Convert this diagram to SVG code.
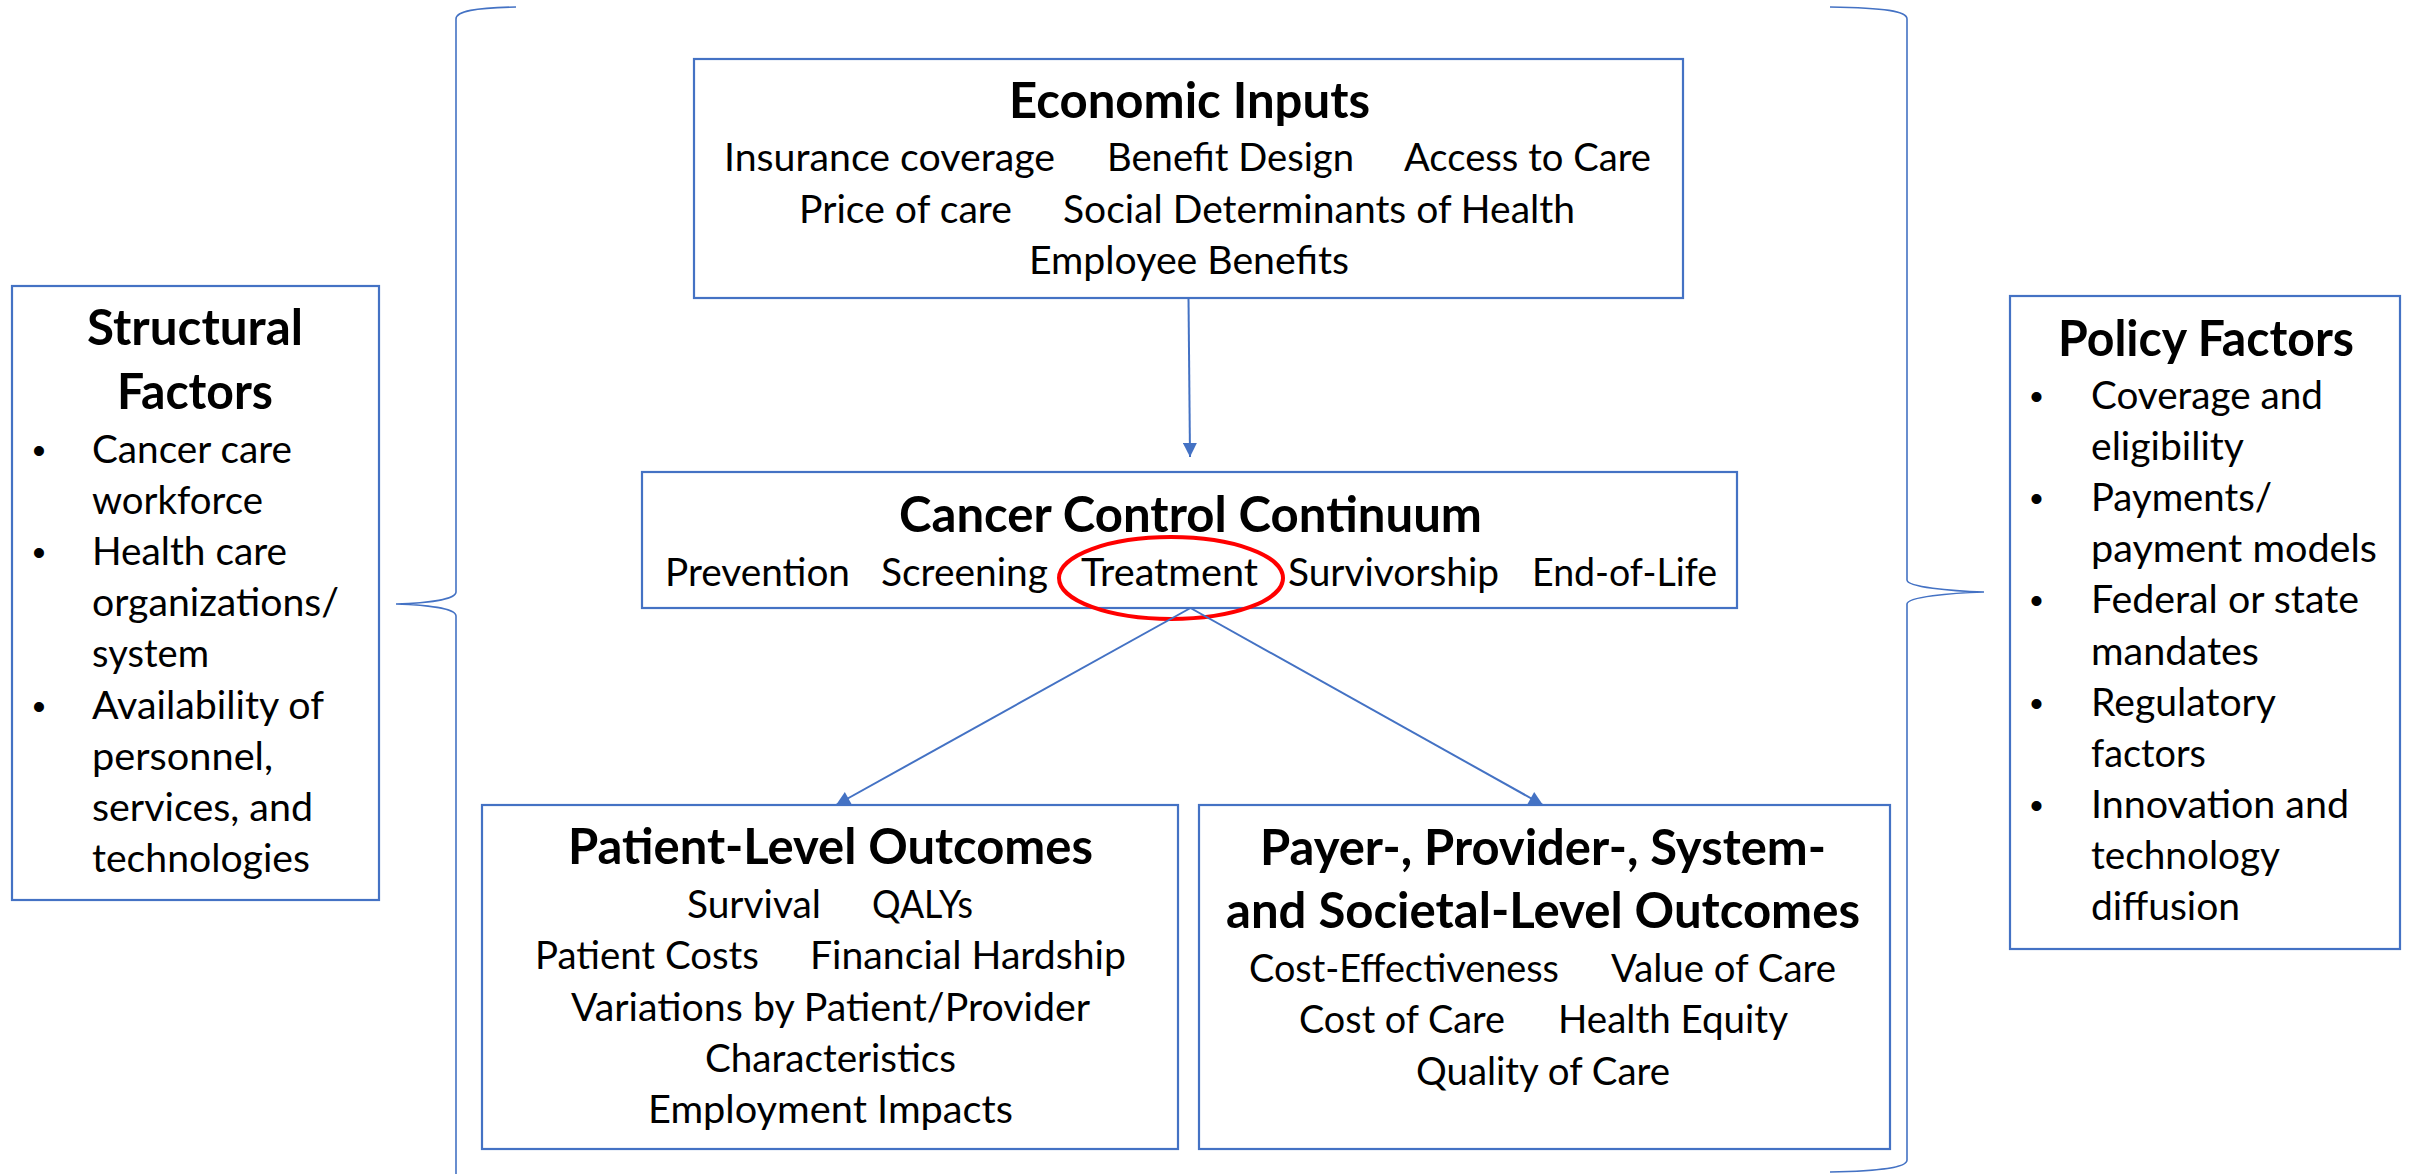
<svg xmlns="http://www.w3.org/2000/svg" width="2412" height="1174" viewBox="0 0 2412 1174">
<style>
.box{fill:#fff;stroke:#4472C4;stroke-width:2.2}
.brace{fill:none;stroke:#4472C4;stroke-width:1.6}
.conn{fill:none;stroke:#4472C4;stroke-width:2}
.t{font-family:Lato,"Liberation Sans",sans-serif;fill:#000}
.h{font-size:49px;font-weight:bold}
.b{font-size:39px}
.s{font-size:38px}
.bul{font-family:"Liberation Sans",Arial,sans-serif;font-size:37px;fill:#000;text-anchor:middle}
</style>
<defs>
<marker id="arr" viewBox="0 0 10 10" refX="10" refY="5" markerWidth="15" markerHeight="14" markerUnits="userSpaceOnUse" orient="auto">
<path d="M0,0 L10,5 L0,10 z" fill="#4472C4"/>
</marker>
</defs>
<rect width="2412" height="1174" fill="#fff"/>

<g id="braces">
<path class="brace" d="M516,7 C475,8 456,11 456,19 L456,592 C456,599 430,603 396,604 C430,605 456,609 456,616 L456,1180"/>
<path class="brace" d="M1830,7 C1885,8 1907,11 1907,19 L1907,580 C1907,587 1950,591 1984,592 C1950,593 1907,597 1907,604 L1907,1160 C1907,1167 1885,1171 1830,1172"/>
</g>

<g id="structural-factors">
<rect class="box" x="12" y="286" width="367" height="614"/>
<text class="t h" x="87" y="345" textLength="216" lengthAdjust="spacingAndGlyphs">Structural</text>
<text class="t h" x="117" y="409" textLength="156" lengthAdjust="spacingAndGlyphs">Factors</text>
<text class="bul" x="39" y="463">•</text>
<text class="bul" x="39" y="565">•</text>
<text class="bul" x="39" y="719">•</text>
<text class="t s" x="92" y="463" textLength="200" lengthAdjust="spacingAndGlyphs">Cancer care</text>
<text class="t s" x="92" y="514" textLength="171" lengthAdjust="spacingAndGlyphs">workforce</text>
<text class="t s" x="92" y="565" textLength="195" lengthAdjust="spacingAndGlyphs">Health care</text>
<text class="t s" x="92" y="616" textLength="247" lengthAdjust="spacingAndGlyphs">organizations/</text>
<text class="t s" x="92" y="667" textLength="117" lengthAdjust="spacingAndGlyphs">system</text>
<text class="t s" x="92" y="719" textLength="232" lengthAdjust="spacingAndGlyphs">Availability of</text>
<text class="t s" x="92" y="770" textLength="181" lengthAdjust="spacingAndGlyphs">personnel,</text>
<text class="t s" x="92" y="821" textLength="221" lengthAdjust="spacingAndGlyphs">services, and</text>
<text class="t s" x="92" y="872" textLength="218" lengthAdjust="spacingAndGlyphs">technologies</text>
</g>

<g id="policy-factors">
<rect class="box" x="2010" y="296" width="390" height="653"/>
<text class="t h" x="2058" y="356" textLength="296" lengthAdjust="spacingAndGlyphs">Policy Factors</text>
<text class="bul" x="2036.5" y="409">•</text>
<text class="bul" x="2036.5" y="511">•</text>
<text class="bul" x="2036.5" y="613">•</text>
<text class="bul" x="2036.5" y="716">•</text>
<text class="bul" x="2036.5" y="818">•</text>
<text class="t s" x="2091" y="409" textLength="232" lengthAdjust="spacingAndGlyphs">Coverage and</text>
<text class="t s" x="2091" y="460" textLength="153" lengthAdjust="spacingAndGlyphs">eligibility</text>
<text class="t s" x="2091" y="511" textLength="181" lengthAdjust="spacingAndGlyphs">Payments/</text>
<text class="t s" x="2091" y="562" textLength="286" lengthAdjust="spacingAndGlyphs">payment models</text>
<text class="t s" x="2091" y="613" textLength="268" lengthAdjust="spacingAndGlyphs">Federal or state</text>
<text class="t s" x="2091" y="665" textLength="168" lengthAdjust="spacingAndGlyphs">mandates</text>
<text class="t s" x="2091" y="716" textLength="185" lengthAdjust="spacingAndGlyphs">Regulatory</text>
<text class="t s" x="2091" y="767" textLength="115" lengthAdjust="spacingAndGlyphs">factors</text>
<text class="t s" x="2091" y="818" textLength="258" lengthAdjust="spacingAndGlyphs">Innovation and</text>
<text class="t s" x="2091" y="869" textLength="189" lengthAdjust="spacingAndGlyphs">technology</text>
<text class="t s" x="2091" y="920" textLength="149" lengthAdjust="spacingAndGlyphs">diffusion</text>
</g>

<g id="economic-inputs">
<rect class="box" x="694" y="59" width="989" height="239"/>
<text class="t h" x="1009" y="118" textLength="361" lengthAdjust="spacingAndGlyphs">Economic Inputs</text>
<text class="t b" x="724" y="171" textLength="331" lengthAdjust="spacingAndGlyphs">Insurance coverage</text>
<text class="t b" x="1107" y="171" textLength="247" lengthAdjust="spacingAndGlyphs">Benefit Design</text>
<text class="t b" x="1404" y="171" textLength="247" lengthAdjust="spacingAndGlyphs">Access to Care</text>
<text class="t b" x="799" y="223" textLength="213" lengthAdjust="spacingAndGlyphs">Price of care</text>
<text class="t b" x="1063" y="223" textLength="512" lengthAdjust="spacingAndGlyphs">Social Determinants of Health</text>
<text class="t b" x="1029" y="274" textLength="320" lengthAdjust="spacingAndGlyphs">Employee Benefits</text>
</g>

<g id="cancer-control-continuum">
<rect class="box" x="642" y="472" width="1095" height="136"/>
<text class="t h" x="899" y="532" textLength="583" lengthAdjust="spacingAndGlyphs">Cancer Control Continuum</text>
<text class="t b" x="665" y="586" textLength="185" lengthAdjust="spacingAndGlyphs">Prevention</text>
<text class="t b" x="881" y="586" textLength="167" lengthAdjust="spacingAndGlyphs">Screening</text>
<text class="t b" x="1081" y="586" textLength="177" lengthAdjust="spacingAndGlyphs">Treatment</text>
<text class="t b" x="1288" y="586" textLength="211" lengthAdjust="spacingAndGlyphs">Survivorship</text>
<text class="t b" x="1532" y="586" textLength="185" lengthAdjust="spacingAndGlyphs">End-of-Life</text>
<ellipse cx="1171" cy="578" rx="112" ry="41" fill="none" stroke="#FF0000" stroke-width="4"/>
</g>

<g id="patient-level-outcomes">
<rect class="box" x="482" y="805" width="696" height="344"/>
<text class="t h" x="568" y="864" textLength="525" lengthAdjust="spacingAndGlyphs">Patient-Level Outcomes</text>
<text class="t b" x="687" y="918" textLength="134" lengthAdjust="spacingAndGlyphs">Survival</text>
<text class="t b" x="872" y="918" textLength="101" lengthAdjust="spacingAndGlyphs">QALYs</text>
<text class="t b" x="535" y="969" textLength="224" lengthAdjust="spacingAndGlyphs">Patient Costs</text>
<text class="t b" x="810" y="969" textLength="316" lengthAdjust="spacingAndGlyphs">Financial Hardship</text>
<text class="t b" x="571" y="1021" textLength="519" lengthAdjust="spacingAndGlyphs">Variations by Patient/Provider</text>
<text class="t b" x="705" y="1072" textLength="251" lengthAdjust="spacingAndGlyphs">Characteristics</text>
<text class="t b" x="648" y="1123" textLength="365" lengthAdjust="spacingAndGlyphs">Employment Impacts</text>
</g>

<g id="system-level-outcomes">
<rect class="box" x="1199" y="805" width="691" height="344"/>
<text class="t h" x="1260" y="865" textLength="566" lengthAdjust="spacingAndGlyphs">Payer-, Provider-, System-</text>
<text class="t h" x="1226" y="928" textLength="634" lengthAdjust="spacingAndGlyphs">and Societal-Level Outcomes</text>
<text class="t b" x="1249" y="982" textLength="310" lengthAdjust="spacingAndGlyphs">Cost-Effectiveness</text>
<text class="t b" x="1611" y="982" textLength="225" lengthAdjust="spacingAndGlyphs">Value of Care</text>
<text class="t b" x="1299" y="1033" textLength="206" lengthAdjust="spacingAndGlyphs">Cost of Care</text>
<text class="t b" x="1558" y="1033" textLength="230" lengthAdjust="spacingAndGlyphs">Health Equity</text>
<text class="t b" x="1416" y="1085" textLength="254" lengthAdjust="spacingAndGlyphs">Quality of Care</text>
</g>

<g id="connectors">
<line class="conn" x1="1188.5" y1="298" x2="1190" y2="457" marker-end="url(#arr)"/>
<line class="conn" x1="1190.5" y1="608" x2="836" y2="805" marker-end="url(#arr)"/>
<line class="conn" x1="1190.5" y1="608" x2="1543" y2="805" marker-end="url(#arr)"/>
</g>
</svg>
